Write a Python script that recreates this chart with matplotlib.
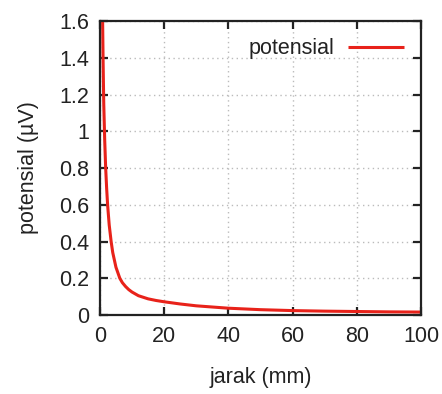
import numpy as np
import matplotlib.pyplot as plt

# Data (distance in mm, potential in microvolt)
jarak = [0.85, 1.0, 1.2, 1.5, 1.8, 2.1, 2.4, 2.9, 3.5, 4.0, 5.0, 6.2, 7.0,
         8.0, 9.0, 10.0, 12.0, 15.0, 17.5, 20, 25, 30, 40, 50, 60, 70, 80,
         90, 100]
potensial = [1.6, 1.38, 1.15, 0.95, 0.8, 0.69, 0.6, 0.49, 0.4, 0.34, 0.26,
             0.2, 0.176, 0.155, 0.138, 0.125, 0.105, 0.088, 0.079, 0.072,
             0.06, 0.05, 0.037, 0.029, 0.024, 0.021, 0.019, 0.017, 0.016]
xticks = [0, 20, 40, 60, 80, 100]
yticks = [0, 0.2, 0.4, 0.6, 0.8, 1, 1.2, 1.4, 1.6]
yticklabels = ['0', '0.2', '0.4', '0.6', '0.8', '1', '1.2', '1.4', '1.6']

plt.rcParams['font.family'] = ['Liberation Sans', 'DejaVu Sans']
txt = '#222222'
fs = 15.5

fig = plt.figure(figsize=(4.42, 3.94), dpi=100)
ax = fig.add_axes([0.226, 0.2005, 0.7265, 0.7462])

ax.plot(jarak, potensial, color='#e8221a', lw=2.2, label='potensial',
        solid_capstyle='butt', solid_joinstyle='round')

ax.set_xlim(0, 100)
ax.set_ylim(0, 1.6)
ax.set_xticks(xticks)
ax.set_yticks(yticks)
ax.set_yticklabels(yticklabels)

ax.grid(True, color='#bbbbbb', linestyle=(0, (1, 2.5)), linewidth=1.0)
ax.set_axisbelow(True)

for s in ax.spines.values():
    s.set_linewidth(1.6)
    s.set_color('#222222')

ax.tick_params(direction='in', length=6, width=1.6, top=True, right=True,
               labelsize=fs, labelcolor=txt, pad=8, color='#222222')

ax.set_xlabel('jarak (mm)', fontsize=fs, color=txt, labelpad=14)
ax.set_ylabel('potensial (µV)', fontsize=fs, color=txt, labelpad=14)

leg = ax.legend(loc='upper right', frameon=False, markerfirst=False,
                fontsize=fs, handlelength=2.6, handletextpad=0.6,
                borderaxespad=0.4)
for t in leg.get_texts():
    t.set_color(txt)

fig.savefig('out.png', dpi=100)
